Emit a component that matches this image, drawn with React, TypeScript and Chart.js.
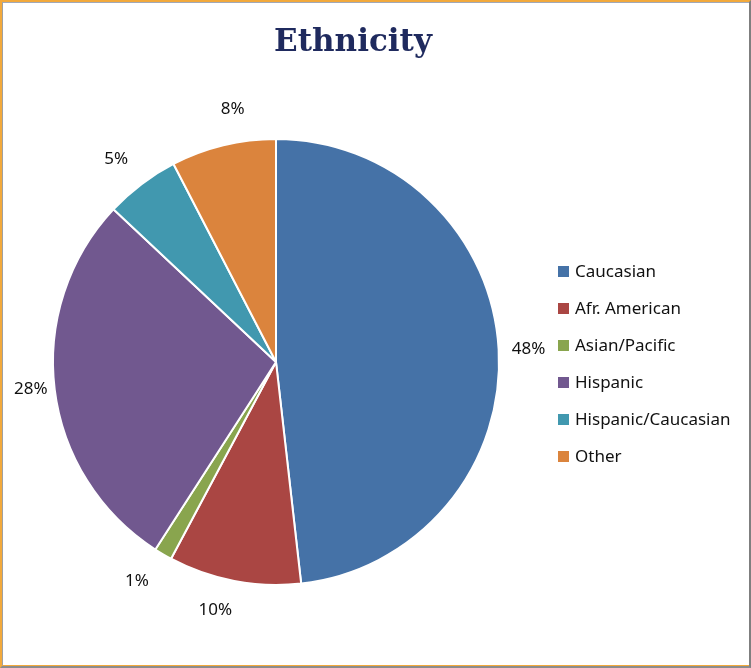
import React, { useEffect, useRef } from "react";
import { Chart, registerables } from "chart.js";

Chart.register(...registerables);

const categories = ["Caucasian", "Afr. American", "Asian/Pacific", "Hispanic", "Hispanic/Caucasian", "Other"];
const shares = [48.2, 9.6, 1.3, 27.9, 5.4, 7.6];
const colors = ["#4572A7", "#AA4643", "#89A54E", "#71588F", "#4198AF", "#DB843D"];
const titleText = "Ethnicity";

const labelNudges = [[-2, 2], [-13, -2], [-10, -1], [8, -4], [-6, 1], [17, -5]];

const overlayPlugin = {
  id: "overlay",
  afterDatasetsDraw(chart: any) {
    const ctx = chart.ctx;
    const meta = chart.getDatasetMeta(0);
    const total = shares.reduce((a, b) => a + b, 0);
    ctx.save();
    // percentage labels
    ctx.font = "17px 'Noto Sans'";
    ctx.fillStyle = "#111111";
    ctx.textAlign = "center";
    ctx.textBaseline = "middle";
    meta.data.forEach((arc: any, i: number) => {
      const p = arc.getProps(["x", "y", "startAngle", "endAngle", "outerRadius"], true);
      const mid = (p.startAngle + p.endAngle) / 2;
      const r = p.outerRadius + 32;
      const n = labelNudges[i] || [0, 0];
      const x = p.x + Math.cos(mid) * r + n[0];
      const y = p.y + Math.sin(mid) * r + n[1];
      ctx.fillText(Math.round((shares[i] / total) * 100) + "%", x, y);
    });
    // title
    ctx.font = "bold 31px 'DejaVu Serif'";
    ctx.fillStyle = "#1F2A5E";
    ctx.textAlign = "center";
    ctx.textBaseline = "alphabetic";
    ctx.fillText(titleText, 353, 51);
    // legend
    ctx.font = "17px 'Noto Sans'";
    ctx.textAlign = "left";
    ctx.textBaseline = "middle";
    categories.forEach((c, i) => {
      const y = 271 + i * 37;
      ctx.fillStyle = colors[i];
      ctx.fillRect(558, y - 5, 11, 11);
      ctx.fillStyle = "#111111";
      ctx.fillText(c, 575, y + 1);
    });
    ctx.restore();
  },
};

export default function App() {
  const ref = useRef<HTMLCanvasElement>(null);
  useEffect(() => {
    document.body.style.margin = "0";
    const chart = new Chart(ref.current as HTMLCanvasElement, {
      type: "pie",
      data: {
        labels: categories,
        datasets: [
          {
            data: shares,
            backgroundColor: colors,
            borderColor: "#ffffff",
            borderWidth: 2,
          },
        ],
      },
      options: {
        responsive: false,
        animation: false,
        radius: 223,
        layout: { padding: { top: 70, bottom: 14, left: 8, right: 207 } },
        plugins: {
          legend: { display: false },
          title: { display: false },
          tooltip: { enabled: false },
        },
      } as any,
      plugins: [overlayPlugin],
    });
    return () => chart.destroy();
  }, []);
  return (
    <div style={{ position: "absolute", left: 0, top: 0, width: 751, height: 668, background: "#fff" }}>
      <canvas ref={ref} width={751} height={668} style={{ position: "absolute", left: 0, top: 0 }} />
      <div
        style={{
          position: "absolute",
          left: 0,
          top: 0,
          width: 751,
          height: 668,
          boxSizing: "border-box",
          borderTop: "2px solid #F2A93B",
          borderLeft: "2px solid #F2A93B",
          borderRight: "2px solid #7F7F7F",
          borderBottom: "2px solid #8C8C8C",
          pointerEvents: "none",
        }}
      >
        <div
          style={{
            position: "absolute",
            inset: 0,
            borderTop: "1px solid #A0A8B8",
            borderLeft: "1px solid #A0A0A0",
            borderBottom: "1px solid #F2A93B",
          }}
        />
      </div>
    </div>
  );
}
